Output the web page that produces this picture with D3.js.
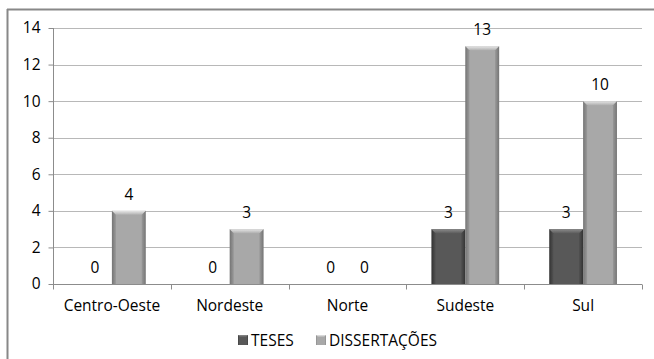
<!DOCTYPE html>
<html>
<head>
<meta charset="utf-8">
<script src="https://cdn.jsdelivr.net/npm/d3@7"></script>
<style>
  html, body { margin: 0; padding: 0; background: #fff; }
  svg { display: block; }
  text { font-family: "Open Sans", "Noto Sans", sans-serif; fill: #000; }
</style>
</head>
<body>
<svg id="chart" width="654" height="359"></svg>
<script>
// Regions and counts per type of work
const regions = ["Centro-Oeste", "Nordeste", "Norte", "Sudeste", "Sul"];
const teses = [0, 0, 0, 3, 3];
const dissertacoes = [4, 3, 0, 13, 10];
const seriesNames = ["TESES", "DISSERTAÇÕES"];
const yTicks = [0, 2, 4, 6, 8, 10, 12, 14];

const series = [
  { name: seriesNames[0], values: teses, key: "t" },
  { name: seriesNames[1], values: dissertacoes, key: "d" }
];

const FS = 15.5;
const svg = d3.select("#chart");
const W = 654, H = 359;

// Outer frame (top and left edges)
svg.append("line").attr("x1", 7).attr("x2", W).attr("y1", 9.5).attr("y2", 9.5)
  .attr("stroke", "#888").attr("stroke-width", 2);
svg.append("line").attr("x1", 7.5).attr("x2", 7.5).attr("y1", 9).attr("y2", H)
  .attr("stroke", "#888").attr("stroke-width", 2);

const x0 = d3.scaleBand().domain(regions).range([53, 642]).paddingInner(0).paddingOuter(0);
const x1 = d3.scaleBand().domain(series.map(s => s.key))
  .range([0, x0.bandwidth()]).paddingInner(0).paddingOuter(0.74);
const y = d3.scaleLinear().domain([0, 14]).range([284, 28]);

// Gradients for the bevelled bars
const defs = svg.append("defs");
function barGrad(id, edge, mid) {
  const g = defs.append("linearGradient").attr("id", id).attr("x1", 0).attr("x2", 1).attr("y1", 0).attr("y2", 0);
  g.append("stop").attr("offset", "0%").attr("stop-color", edge);
  g.append("stop").attr("offset", "10%").attr("stop-color", mid);
  g.append("stop").attr("offset", "90%").attr("stop-color", mid);
  g.append("stop").attr("offset", "100%").attr("stop-color", edge);
}
function capGrad(id, top, bottom) {
  const g = defs.append("linearGradient").attr("id", id).attr("x1", 0).attr("x2", 0).attr("y1", 0).attr("y2", 1);
  g.append("stop").attr("offset", "0%").attr("stop-color", top);
  g.append("stop").attr("offset", "100%").attr("stop-color", bottom);
}
barGrad("bar-t", "#3a3a3a", "#585858");
barGrad("bar-d", "#858585", "#a8a8a8");
capGrad("cap-t", "#8c8c8c", "#5e5e5e");
capGrad("cap-d", "#e6e6e6", "#b0b0b0");

// Gridlines
svg.append("g").selectAll("line").data(yTicks.filter(t => t > 0)).join("line")
  .attr("x1", 53).attr("x2", 642)
  .attr("y1", d => Math.round(y(d)) + 0.5).attr("y2", d => Math.round(y(d)) + 0.5)
  .attr("stroke", "#b8b8b8").attr("stroke-width", 1);

// Y axis
const yAxis = svg.append("g").attr("transform", "translate(53.5,0)")
  .call(d3.axisLeft(y).tickValues(yTicks).tickSize(5).tickPadding(8).tickFormat(d3.format("d")));
yAxis.select(".domain").attr("stroke", "#8c8c8c").attr("d", `M0,${y(14)}V${y(0)}`);
yAxis.selectAll(".tick line").attr("stroke", "#8c8c8c");
yAxis.selectAll(".tick text").attr("font-size", FS).attr("font-family", "Open Sans, sans-serif").attr("fill", "#000");

// X axis
const xAxis = svg.append("g").attr("transform", `translate(0,${Math.round(y(0)) + 0.5})`);
xAxis.append("line").attr("x1", 53).attr("x2", 642).attr("stroke", "#8c8c8c");
xAxis.selectAll("line.tk").data(d3.range(regions.length + 1)).join("line").attr("class", "tk")
  .attr("x1", i => Math.round(53 + i * x0.bandwidth()) + 0.5)
  .attr("x2", i => Math.round(53 + i * x0.bandwidth()) + 0.5)
  .attr("y1", 0).attr("y2", 5).attr("stroke", "#8c8c8c");
xAxis.selectAll("text").data(regions).join("text")
  .attr("x", d => x0(d) + x0.bandwidth() / 2).attr("y", 26)
  .attr("text-anchor", "middle").attr("font-size", FS).text(d => d);

// Bars
const groups = svg.append("g").selectAll("g").data(regions).join("g")
  .attr("transform", d => `translate(${x0(d)},0)`);

series.forEach(s => {
  const bw = x1.bandwidth();
  groups.each(function (r, i) {
    const v = s.values[i];
    const g = d3.select(this);
    const bx = x1(s.key);
    if (v > 0) {
      const top = y(v), bot = y(0);
      g.append("rect").attr("x", bx).attr("y", top).attr("width", bw).attr("height", bot - top)
        .attr("fill", `url(#bar-${s.key})`);
      const c = 4;
      g.append("path")
        .attr("d", `M${bx},${top}L${bx + bw},${top}L${bx + bw - c},${top + c}L${bx + c},${top + c}Z`)
        .attr("fill", `url(#cap-${s.key})`);
      g.append("path")
        .attr("d", `M${bx},${top}L${bx + c},${top + c}L${bx + c},${bot}L${bx},${bot}Z`)
        .attr("fill", "#000").attr("opacity", 0.12);
      g.append("path")
        .attr("d", `M${bx + bw},${top}L${bx + bw - c},${top + c}L${bx + bw - c},${bot}L${bx + bw},${bot}Z`)
        .attr("fill", "#000").attr("opacity", 0.12);
    }
    g.append("text")
      .attr("x", bx + bw / 2).attr("y", y(v) - 11)
      .attr("text-anchor", "middle").attr("font-size", FS).text(v);
  });
});

// Legend
const legend = svg.append("g").attr("transform", "translate(0,340)");
const legendItems = [
  { name: seriesNames[0], key: "t", x: 238 },
  { name: seriesNames[1], key: "d", x: 316 }
];
legendItems.forEach(it => {
  legend.append("rect").attr("x", it.x).attr("y", -5).attr("width", 10).attr("height", 10)
    .attr("fill", `url(#bar-${it.key})`);
  legend.append("path")
    .attr("d", `M${it.x},-5L${it.x + 10},-5L${it.x + 8},-3L${it.x + 2},-3Z`)
    .attr("fill", `url(#cap-${it.key})`);
  legend.append("text").attr("x", it.x + 13).attr("y", 5.5).attr("font-size", FS).text(it.name);
});
</script>
</body>
</html>
